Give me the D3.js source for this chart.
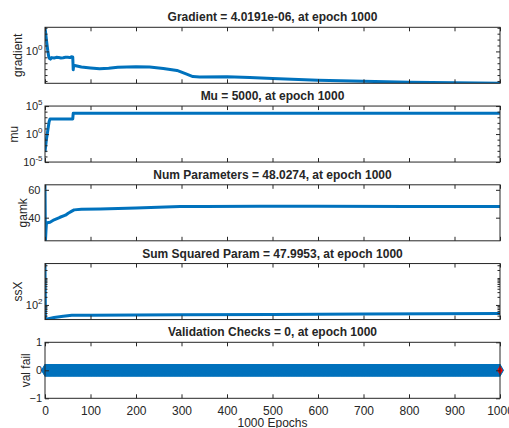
<!DOCTYPE html>
<html><head><meta charset="utf-8">
<script src="https://cdn.jsdelivr.net/npm/d3@7"></script>
<style>
body{margin:0;background:#fff}
svg{display:block}
text{font-family:"Liberation Sans",Arial,Helvetica,sans-serif;fill:#262626}
</style>
</head><body>
<svg id="chart" width="509" height="428"></svg>
<script>
// ---------- data ----------
const epochTicks = [0,100,200,300,400,500,600,700,800,900,1000];
const titles = [
  "Gradient = 4.0191e-06, at epoch 1000",
  "Mu = 5000, at epoch 1000",
  "Num Parameters = 48.0274, at epoch 1000",
  "Sum Squared Param = 47.9953, at epoch 1000",
  "Validation Checks = 0, at epoch 1000"
];
const yLabels = ["gradient","mu","gamk","ssX","val fail"];
const xLabel = "1000 Epochs";

const gradEpochs = [0,2,4,6,8,10,12,15,20,25,30,35,40,45,50,55,58,61,62,63,80,100,120,140,160,200,230,260,290,310,325,340,400,450,500,600,700,800,900,1000];
const gradValues = [12000,500,25,1.6,0.16,0.063,0.05,0.089,0.076,0.1,0.093,0.079,0.085,0.1,0.105,0.089,0.12,0.112,7.9e-4,4.5e-3,2.3e-3,1.6e-3,1.15e-3,1.4e-3,2.1e-3,2.5e-3,2.3e-3,1.3e-3,6.0e-4,1.55e-4,5.5e-5,4.9e-5,5.2e-5,3.7e-5,2.5e-5,1.35e-5,9.3e-6,6.3e-6,4.8e-6,4.0191e-6];

const muEpochs = [0,3,6,9,11,61,62,1000];
const muValues = [6e-4,0.1,4,160,500,500,5000,5000];
const muDomain = [1e-5,1e5];

const gamkEpochs = [0,1,2,3,5,8,11,20,33,45,51,58,64,80,121,200,297,350,472,600,800,1000];
const gamkValues = [63.6,23.4,30,35.5,36.3,36.5,36.7,38.5,40.3,41.8,43.2,44.5,45.6,46,46.3,46.9,48,48.1,48.2,48.2,48.1,48.0274];

const ssxEpochs = [0,1,5,20,40,59,100,300,500,700,1000];
const ssxValues = [3470,28.6,30,34,38,41,41.5,43.4,44.5,46,47.9953];

const valFailEpochs = d3.range(0,1001);
const valFailValue = 0;
const valFailDomain = [-1,1];
const valFailTicks = [-1,0,1];
const gamkTicks = [40,60];

// ---------- layout ----------
const svg = d3.select("#chart");
const L = 45, R = 500, PH = 56, top0 = 27.3, step = 78.75;
const blue = "#0072BD";
const x = d3.scaleLinear().domain([0,1000]).range([L,R]);
const tops = d3.range(5).map(i => top0 + i*step);
const ylabelX = [22,18,27,22,30.3];

function decades(domain){
  const a = Math.floor(Math.log10(domain[0])), b = Math.ceil(Math.log10(domain[1]));
  return d3.range(a,b+1);
}

function supLabel(sel, exps, y, endX){
  exps.forEach(e => {
    const t = sel.append("text").attr("x", endX).attr("y", y(Math.pow(10,e)) + 4)
      .attr("text-anchor","end").attr("font-size",11);
    t.append("tspan").text("10");
    t.append("tspan").attr("dy",-5).attr("font-size",8).text(String(e));
  });
}

function panel(i, y, opts){
  const t = tops[i];
  const g = svg.append("g");
  const clipId = "clip"+i;
  svg.append("clipPath").attr("id",clipId).append("rect")
    .attr("x",L).attr("y",t).attr("width",R-L).attr("height",PH);

  // data
  if (opts.epochs){
    const line = d3.line().x((d,k)=>x(opts.epochs[k])).y(d=>y(d));
    g.append("path").datum(opts.values).attr("clip-path",`url(#${clipId})`)
      .attr("d",line).attr("fill","none").attr("stroke",blue)
      .attr("stroke-width",3).attr("stroke-linejoin","round");
  }
  if (opts.markers){
    const big = d3.symbol().type(d3.symbolDiamond).size(42);
    g.append("g").selectAll("path").data(valFailEpochs).join("path")
      .attr("transform", d => `translate(${x(d)},${y(valFailValue)})`)
      .attr("d", big()).attr("fill",blue).attr("stroke",blue).attr("stroke-width",1);
    const small = d3.symbol().type(d3.symbolDiamond).size(18);
    g.append("path").attr("transform",`translate(${x(1000)},${y(valFailValue)})`)
      .attr("d", small()).attr("fill","#ff0000").attr("stroke","#ff0000").attr("stroke-width",1);
  }

  const axisG = svg.append("g").attr("class","ax");
  // x ticks bottom and top
  const bx = axisG.append("g").attr("transform",`translate(0,${t+PH})`)
    .call(d3.axisBottom(x).tickValues(epochTicks).tickSize(-4).tickPadding(8)
      .tickFormat(i===4 ? d3.format("d") : ""));
  axisG.append("g").attr("transform",`translate(0,${t})`)
    .call(d3.axisTop(x).tickValues(epochTicks).tickSize(-4).tickFormat(""));

  // y ticks left/right
  const yl = axisG.append("g").attr("transform",`translate(${L},0)`)
    .call(d3.axisLeft(y).tickValues(opts.major).tickSize(-4).tickFormat(""));
  axisG.append("g").attr("transform",`translate(${R},0)`)
    .call(d3.axisRight(y).tickValues(opts.major).tickSize(-4).tickFormat(""));
  if (opts.minor){
    axisG.append("g").attr("transform",`translate(${L},0)`)
      .call(d3.axisLeft(y).tickValues(opts.minor).tickSize(-2.5).tickFormat(""));
    axisG.append("g").attr("transform",`translate(${R},0)`)
      .call(d3.axisRight(y).tickValues(opts.minor).tickSize(-2.5).tickFormat(""));
  }
  axisG.selectAll(".domain").remove();
  axisG.selectAll(".tick line").attr("stroke","#262626");
  axisG.selectAll(".tick text").attr("font-size",12).attr("fill","#262626")
    .attr("font-family",'"Liberation Sans",Arial,sans-serif');

  // y tick labels
  if (opts.logLabels){
    supLabel(svg, opts.logLabels, y, 42.5);
  } else {
    opts.major.forEach(v => {
      svg.append("text").attr("x",opts.labelEnd).attr("y",y(v)+4)
        .attr("text-anchor","end").attr("font-size",11).text(d3.format("d")(v));
    });
  }

  // frame
  svg.append("rect").attr("x",L).attr("y",t).attr("width",R-L).attr("height",PH)
    .attr("fill","none").attr("stroke","#262626").attr("stroke-width",1);

  // title
  svg.append("text").attr("x",(L+R)/2).attr("y",t-6).attr("text-anchor","middle")
    .attr("font-size",12).attr("font-weight","bold").text(titles[i]);
  // y label
  svg.append("text").attr("transform",`translate(${ylabelX[i]},${t+PH/2}) rotate(-90)`)
    .attr("text-anchor","middle").attr("font-size",12).text(yLabels[i]);
}

// panel 1: gradient
{
  const dom = d3.extent(gradValues);
  const y = d3.scaleLog().domain(dom).range([tops[0]+PH, tops[0]]);
  const dec = decades(dom).filter(e => Math.pow(10,e)>=dom[0] && Math.pow(10,e)<=dom[1]);
  panel(0, y, {epochs:gradEpochs, values:gradValues, major:[1],
    minor: dec.filter(e=>e!==0).map(e=>Math.pow(10,e)), logLabels:[0]});
}
// panel 2: mu
{
  const y = d3.scaleLog().domain(muDomain).range([tops[1]+PH, tops[1]]);
  const dec = decades(muDomain);
  panel(1, y, {epochs:muEpochs, values:muValues, major:[1e-5,1,1e5],
    minor: dec.filter(e=>e%5!==0).map(e=>Math.pow(10,e)), logLabels:[-5,0,5]});
}
// panel 3: gamk
{
  const y = d3.scaleLinear().domain(d3.extent(gamkValues)).range([tops[2]+PH, tops[2]]);
  panel(2, y, {epochs:gamkEpochs, values:gamkValues, major:gamkTicks, labelEnd:40.5});
}
// panel 4: ssX
{
  const dom = d3.extent(ssxValues);
  const y = d3.scaleLog().domain(dom).range([tops[3]+PH, tops[3]]);
  const minor = [];
  decades(dom).forEach(e => d3.range(1,10).forEach(m => {
    const v = m*Math.pow(10,e);
    if (v>=dom[0] && v<=dom[1] && v!==100) minor.push(v);
  }));
  panel(3, y, {epochs:ssxEpochs, values:ssxValues, major:[100], minor, logLabels:[2]});
}
// panel 5: val fail
{
  const y = d3.scaleLinear().domain(valFailDomain).range([tops[4]+PH, tops[4]]);
  panel(4, y, {markers:true, major:valFailTicks, labelEnd:42});
}
// x label
svg.append("text").attr("x",(L+R)/2).attr("y",427).attr("text-anchor","middle")
  .attr("font-size",12).text(xLabel);
</script>
</body></html>
